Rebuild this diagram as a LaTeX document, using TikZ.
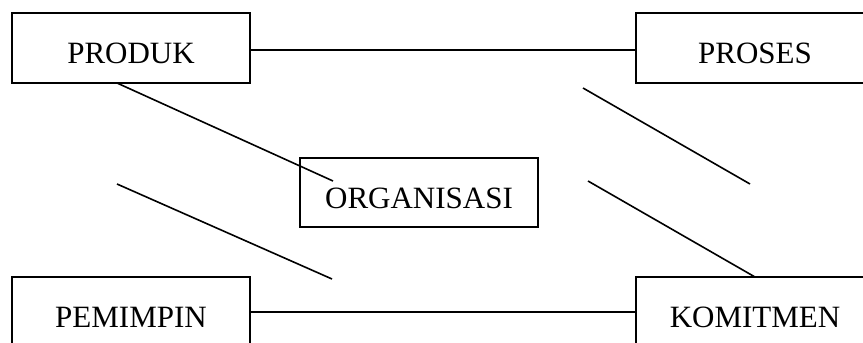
\documentclass[tikz,border=0pt]{standalone}
\usepackage{fontspec}
\setmainfont{Liberation Serif}
\begin{document}
\begin{tikzpicture}[x=1pt,y=-1pt,
  box/.style={draw,line width=1.8pt,minimum width=238pt,minimum height=70pt,inner sep=0pt,
    font=\fontsize{31}{31}\selectfont,text height=31pt,text depth=0pt},
  link/.style={line width=1.6pt}]
\useasboundingbox (0,0) rectangle (863,343);
\clip (0,0) rectangle (863,343);
\node[box] (produk) at (131,48) {PRODUK};
\node[box] (proses) at (755,48) {PROSES};
\node[box,minimum height=69pt] (org) at (419,192.5) {ORGANISASI};
\node[box] (pemimpin) at (131,312) {PEMIMPIN};
\node[box] (komitmen) at (755,312) {KOMITMEN};
\coordinate (a1) at (117,83);
\coordinate (a2) at (333,181);
\coordinate (b1) at (583,88);
\coordinate (b2) at (750,184);
\coordinate (c1) at (588,181);
\coordinate (c2) at (755,277);
\coordinate (d1) at (117,184);
\coordinate (d2) at (332,279);
\draw[link] (produk.east |- 0,50) -- (proses.west |- 0,50);
\draw[link] (pemimpin.east) -- (komitmen.west);
\draw[link] (a1) -- (a2);
\draw[link] (b1) -- (b2);
\draw[link] (c1) -- (c2);
\draw[link] (d1) -- (d2);
\end{tikzpicture}
\end{document}
